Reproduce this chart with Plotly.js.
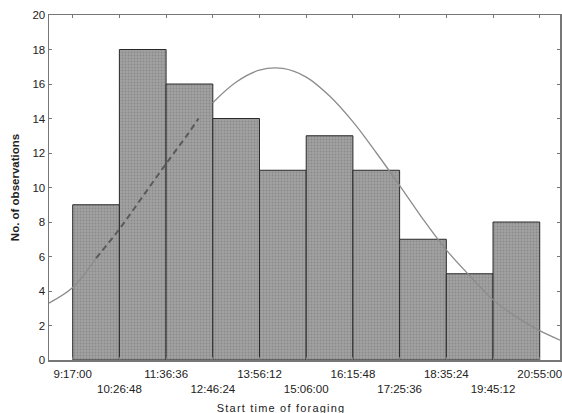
<!DOCTYPE html>
<html>
<head>
<meta charset="utf-8">
<script src="https://cdn.plot.ly/plotly-3.0.1.min.js"></script>
<style>
html,body{margin:0;padding:0;background:#fff;}
#chart{width:562px;height:413px;}
</style>
</head>
<body>
<div id="chart"></div>
<script>
// Bin edges (tick labels) and observation counts per bin
var binEdges = ["9:17:00","10:26:48","11:36:36","12:46:24","13:56:12","15:06:00","16:15:48","17:25:36","18:35:24","19:45:12","20:55:00"];
var counts = [9, 18, 16, 14, 11, 13, 11, 7, 5, 8];

// Fitted curve
var curveTimes = ["8:41:36","9:17:00","9:52:00","10:27:00","11:02:00","11:37:00","12:11:00","12:25:00","12:46:00","13:21:00","13:56:00","14:31:00","15:06:00","15:41:00","16:16:00","16:51:00","17:26:00","18:00:00","18:35:00","19:10:00","19:45:00","20:20:00","20:55:00","21:25:18"];
var curveValues = [3.3, 4.2, 5.9, 7.6, 9.5, 11.4, 13.2, 14.0, 14.9, 16.1, 16.8, 16.9, 16.4, 15.3, 13.8, 12.0, 10.1, 8.2, 6.4, 4.9, 3.5, 2.5, 1.7, 1.15];
var dashFrom = "9:52:00", dashTo = "12:25:00", solidResume = "12:46:00";

var xAxisTitle = "Start time of foraging";
var yAxisTitle = "No. of observations";

function toMin(s){ var p = s.split(":").map(Number); return p[0]*60 + p[1] + (p[2]||0)/60; }

var edgeMin = binEdges.map(toMin);
var centers = [], widths = [];
for (var i = 0; i < counts.length; i++){ centers.push((edgeMin[i]+edgeMin[i+1])/2); widths.push(edgeMin[i+1]-edgeMin[i]); }

var cx = curveTimes.map(toMin);
var dF = toMin(dashFrom), dT = toMin(dashTo), sR = toMin(solidResume);
var solidY = curveValues.map(function(v,i){ return (cx[i] <= dF || cx[i] >= sR) ? v : null; });
var dashX = [], dashY = [];
cx.forEach(function(t,i){ if (t >= dF && t <= dT){ dashX.push(t); dashY.push(curveValues[i]); } });

var tickText = binEdges.map(function(s,i){ return i % 2 === 0 ? s : "<br>" + s; });

var traces = [
  {type:"bar", x:centers, y:counts, width:widths,
   marker:{color:"#9c9c9c", line:{color:"#2a2a2a", width:1},
           pattern:{shape:".", fgcolor:"#8a8a8a", bgcolor:"#a2a2a2", size:3, solidity:0.3}},
   hoverinfo:"skip", showlegend:false},
  {type:"scatter", mode:"lines", x:cx, y:solidY, line:{color:"#8c8c8c", width:1.3, shape:"spline"},
   connectgaps:false, showlegend:false, hoverinfo:"skip"},
  {type:"scatter", mode:"lines", x:dashX, y:dashY, line:{color:"#5a5a5a", width:2, dash:"6px,4px", shape:"spline"},
   showlegend:false, hoverinfo:"skip"}
];

var font = {family:"Liberation Sans, Arial, sans-serif", size:11.5, color:"#222"};
var layout = {
  width:562, height:413,
  margin:{l:49, r:2, t:15, b:53},
  paper_bgcolor:"#fff", plot_bgcolor:"#fff",
  font:font,
  bargap:0,
  xaxis:{range:[toMin("8:41:36"), toMin("21:25:18")], tickvals:edgeMin, ticktext:tickText,
         showline:true, mirror:"ticks", linecolor:"#777", linewidth:1.5,
         ticks:"inside", ticklen:3, tickcolor:"#777", showgrid:false, zeroline:false,
         tickfont:font, tickangle:0, ticklabeloverflow:"allow", ticklabelstandoff:3},
  yaxis:{range:[0,20], dtick:2, tick0:0, showline:true, mirror:"ticks", linecolor:"#777", linewidth:1.5,
         ticks:"inside", ticklen:3, tickcolor:"#777", showgrid:false, zeroline:false, tickfont:font,
         title:{text:yAxisTitle, font:{family:"Liberation Sans, Arial, sans-serif", size:11.5, color:"#222", weight:600}, standoff:10}},
  annotations:[{text:xAxisTitle, xref:"paper", yref:"paper", x:0.454, y:-0.139, xanchor:"center", yanchor:"middle",
                showarrow:false, font:{family:"Liberation Sans, Arial, sans-serif", size:11, color:"#222"}}]
};

Plotly.newPlot("chart", traces, layout, {displayModeBar:false, staticPlot:true}).then(function(){
  var a = document.querySelectorAll(".annotation-text");
  a.forEach(function(el){ el.style.letterSpacing = "1.2px"; });
});
</script>
</body>
</html>
